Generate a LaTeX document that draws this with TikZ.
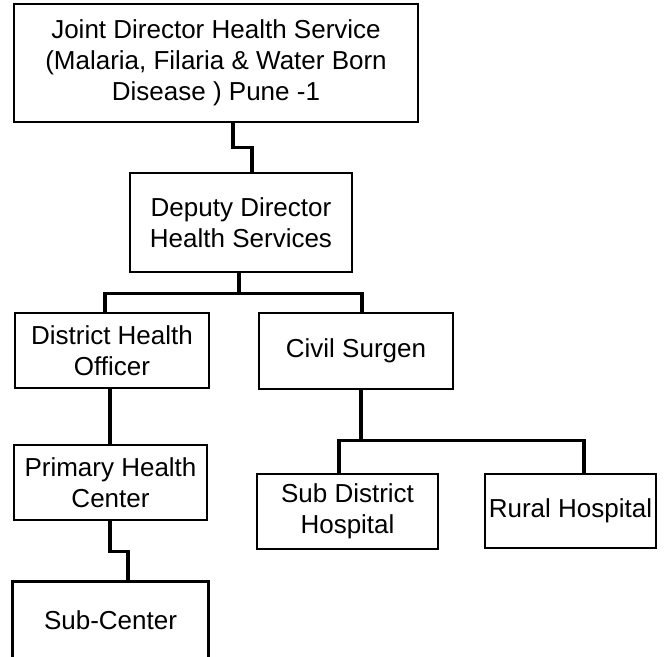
\documentclass[tikz,border=0pt]{standalone}
\usepackage{fontspec}
\setmainfont{Liberation Sans}
\begin{document}
\begin{tikzpicture}[x=1bp,y=-1bp,
  box/.style={draw, line width=2.6bp, rectangle, inner sep=0pt, align=center,
    font=\fontsize{26bp}{31bp}\selectfont},
  conn/.style={line width=3.2bp}]
\useasboundingbox (0,0) rectangle (667,657);
% boxes
\node[box, minimum width=404bp, minimum height=118bp] (top) at (216,63)
  {Joint Director Health Service\\(Malaria, Filaria \& Water Born\\Disease ) Pune -1};
\node[box, minimum width=222bp, minimum height=99bp] (dep) at (241,222.5)
  {Deputy Director\\Health Services};
\node[box, minimum width=194bp, minimum height=75bp] (dho) at (112,350.5)
  {District Health\\Officer};
\node[box, minimum width=194bp, minimum height=76bp] (cs) at (356,351)
  {Civil Surgen};
\node[box, minimum width=193bp, minimum height=75bp] (phc) at (110.5,482.5)
  {Primary Health\\Center};
\node[box, minimum width=181bp, minimum height=75bp] (sdh) at (347.5,511.5)
  {Sub District\\Hospital};
\node[box, minimum width=171bp, minimum height=74bp] (rh) at (570.5,511)
  {Rural Hospital};
\node[box, draw=none, minimum width=193bp, minimum height=74bp] (sc) at (110.5,620)
  {Sub-Center};
\draw[line width=2.6bp] (sc.south west) -- (sc.north west) -- (sc.north east) -- (sc.south east);
% connectors
\draw[conn] ([xshift=17bp]top.south) -- ++(0,24) -| ([xshift=11bp]dep.north);
\draw[conn] ([xshift=-2bp]dep.south) -- ++(0,20) coordinate (j1);
\draw[conn] ([xshift=-7bp]dho.north) |- (j1) -| ([xshift=6bp]cs.north);
\draw[conn] ([xshift=-2bp]dho.south) -- ([xshift=-2bp]dho.south |- phc.north);
\draw[conn] ([xshift=-0.5bp]phc.south) -- ++(0,30) -| ([xshift=17.5bp]sc.north);
\draw[conn] ([xshift=5bp]cs.south) -- ++(0,50) coordinate (j2);
\draw[conn] ([xshift=-8.5bp]sdh.north) |- (j2) -| ([xshift=13.5bp]rh.north);
\end{tikzpicture}
\end{document}
